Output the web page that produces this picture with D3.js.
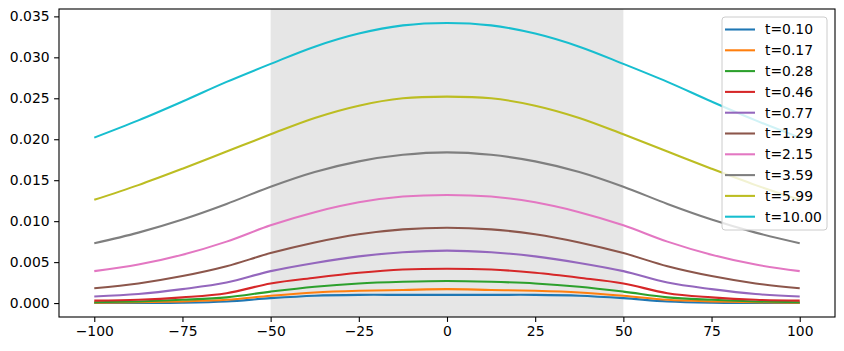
<!DOCTYPE html>
<html>
<head>
<meta charset="utf-8">
<script src="https://cdn.jsdelivr.net/npm/d3@7"></script>
<style>
  body { margin: 0; background: #fff; }
  svg text { font-family: "DejaVu Sans", sans-serif; }
</style>
</head>
<body>
<div id="chart"></div>
<script>
// positions en x où les courbes sont lues
const xs = [-100, -87.5, -75, -62.5, -50, -37.5, -25, -12.5, 0, 12.5, 25, 37.5, 50, 62.5, 75, 87.5, 100]

const labels = ["t=0.10", "t=0.17", "t=0.28", "t=0.46", "t=0.77", "t=1.29", "t=2.15", "t=3.59", "t=5.99", "t=10.00"]
const colors = ["#1f77b4", "#ff7f0e", "#2ca02c", "#d62728", "#9467bd", "#8c564b", "#e377c2", "#7f7f7f", "#bcbd22", "#17becf"]

// valeurs, une liste par courbe
const t010 = [0.0000, 0.00002, 0.00005, 0.0002, 0.0006, 0.0009, 0.0010, 0.0010, 0.0010, 0.0010, 0.0010, 0.0009, 0.0006, 0.0002, 0.00005, 0.00002, 0.0000]
const t017 = [0.00005, 0.0001, 0.0002, 0.0004, 0.0009, 0.0013, 0.0015, 0.0016, 0.0017, 0.0016, 0.0015, 0.0013, 0.0009, 0.0004, 0.0002, 0.0001, 0.00005]
const t028 = [0.0001, 0.0002, 0.0004, 0.0007, 0.0014, 0.0020, 0.0024, 0.0026, 0.0027, 0.0026, 0.0024, 0.0020, 0.0014, 0.0007, 0.0004, 0.0002, 0.0001]
const t046 = [0.0003, 0.0004, 0.0007, 0.0012, 0.0024, 0.0031, 0.0037, 0.0041, 0.0042, 0.0041, 0.0037, 0.0031, 0.0024, 0.0012, 0.0007, 0.0004, 0.0003]
const t077 = [0.0008, 0.0011, 0.0017, 0.0025, 0.0039, 0.0049, 0.0057, 0.0062, 0.0064, 0.0062, 0.0057, 0.0049, 0.0039, 0.0025, 0.0017, 0.0011, 0.0008]
const t129 = [0.0018, 0.0024, 0.0033, 0.0045, 0.0061, 0.0074, 0.0084, 0.0090, 0.0092, 0.0090, 0.0084, 0.0074, 0.0061, 0.0045, 0.0033, 0.0024, 0.0018]
const t215 = [0.0039, 0.0047, 0.0059, 0.0075, 0.0095, 0.0111, 0.0123, 0.0130, 0.0132, 0.0130, 0.0123, 0.0111, 0.0095, 0.0075, 0.0059, 0.0047, 0.0039]
const t359 = [0.0073, 0.0086, 0.0102, 0.0121, 0.0142, 0.0160, 0.0173, 0.0181, 0.0184, 0.0181, 0.0173, 0.0160, 0.0142, 0.0121, 0.0102, 0.0086, 0.0073]
const t599 = [0.0126, 0.0144, 0.0164, 0.0185, 0.0206, 0.0226, 0.0241, 0.0250, 0.0252, 0.0250, 0.0241, 0.0226, 0.0206, 0.0185, 0.0164, 0.0144, 0.0126]
const t1000 = [0.0202, 0.0223, 0.0246, 0.0270, 0.0292, 0.0313, 0.0329, 0.0339, 0.0342, 0.0339, 0.0329, 0.0313, 0.0292, 0.0270, 0.0246, 0.0223, 0.0202]

const series = [t010, t017, t028, t046, t077, t129, t215, t359, t599, t1000]

const xTicks = [-100, -75, -50, -25, 0, 25, 50, 75, 100]
const yTicks = [0.000, 0.005, 0.010, 0.015, 0.020, 0.025, 0.030, 0.035]
const band = [-50, 50]

const width = 844
const height = 351
const margin = { top: 9, right: 9, bottom: 34, left: 59 }

let svg = d3.select("#chart")
    .append("svg")
    .attr("width", width)
    .attr("height", height)

let x = d3.scaleLinear()
    .domain([-110, 110])
    .range([margin.left, width - margin.right])

let y = d3.scaleLinear()
    .domain([-0.0017, 0.0359])
    .range([height - margin.bottom, margin.top])

// zone grisée
svg.append("rect")
    .attr("x", x(band[0]))
    .attr("y", margin.top)
    .attr("width", x(band[1]) - x(band[0]))
    .attr("height", height - margin.bottom - margin.top)
    .attr("fill", "#808080")
    .attr("fill-opacity", 0.2)

// courbes
let line = d3.line()
    .x((d, i) => x(xs[i]))
    .y(d => y(d))
    .curve(d3.curveCatmullRom.alpha(0.5))

svg.selectAll("path.serie")
    .data(series)
    .enter()
    .append("path")
    .attr("class", "serie")
    .attr("d", d => line(d))
    .attr("fill", "none")
    .attr("stroke", (d, i) => colors[i])
    .attr("stroke-width", 2.08)

// axes
let xAxis = svg.append("g")
    .attr("transform", "translate(0," + (height - margin.bottom) + ")")
    .call(d3.axisBottom(x).tickValues(xTicks).tickFormat(d3.format("d")).tickSizeOuter(0).tickSize(4.9).tickPadding(4.5))
let yAxis = svg.append("g")
    .attr("transform", "translate(" + margin.left + ",0)")
    .call(d3.axisLeft(y).tickValues(yTicks).tickFormat(d3.format(".3f")).tickSizeOuter(0).tickSize(4.9).tickPadding(4.5))

for (const g of [xAxis, yAxis]) {
    g.select(".domain").remove()
    g.selectAll(".tick line").attr("stroke", "#000").attr("stroke-width", 1.1)
    g.selectAll(".tick text").attr("font-size", "13.9px").attr("fill", "#000")
        .attr("font-family", "DejaVu Sans")
}

// cadre
svg.append("rect")
    .attr("x", margin.left)
    .attr("y", margin.top)
    .attr("width", width - margin.right - margin.left)
    .attr("height", height - margin.bottom - margin.top)
    .attr("fill", "none")
    .attr("stroke", "#000")
    .attr("stroke-width", 1.1)

// légende
let legend = svg.append("g").attr("transform", "translate(722,17)")
legend.append("rect")
    .attr("width", 105)
    .attr("height", 213)
    .attr("rx", 3)
    .attr("fill", "#fff")
    .attr("fill-opacity", 0.8)
    .attr("stroke", "#cccccc")
    .attr("stroke-width", 1)

labels.forEach((lab, i) => {
    let yy = 12.5 + i * 20.8
    legend.append("line")
        .attr("x1", 3).attr("x2", 33)
        .attr("y1", yy).attr("y2", yy)
        .attr("stroke", colors[i])
        .attr("stroke-width", 2.08)
    legend.append("text")
        .attr("x", 43)
        .attr("y", yy)
        .attr("dy", "0.35em")
        .attr("font-size", "13.9px")
        .attr("fill", "#000")
        .text(lab)
})
</script>
</body>
</html>
